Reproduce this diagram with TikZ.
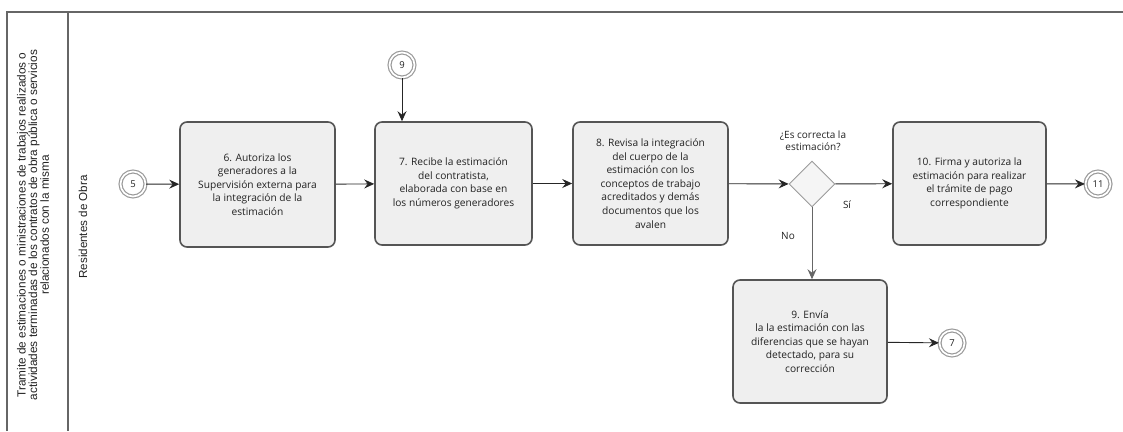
\documentclass[tikz,border=0pt]{standalone}
\usepackage{fontspec}
\setmainfont{Open Sans}
\newfontfamily\lanefont{Liberation Sans}
\usetikzlibrary{arrows.meta,shapes.geometric}
\definecolor{boxfill}{HTML}{EFEFEF}
\definecolor{boxline}{HTML}{555555}
\definecolor{ringgray}{HTML}{9A9A9A}
\definecolor{lanegray}{HTML}{666666}
\definecolor{txt}{HTML}{222222}
\tikzset{
  taskbox/.style={draw=boxline, fill=boxfill, line width=1.6pt, rounded corners=7pt,
    minimum width=153pt, minimum height=123pt, align=center, text=txt,
    font=\fontsize{10.2}{13.6}\selectfont, inner sep=2pt},
  ringnode/.style={circle, draw=ringgray, line width=1.2pt, double=white, double distance=1.7pt,
    minimum size=25pt, inner sep=0pt, fill=white, text=txt, font=\fontsize{9.5}{10}\selectfont},
  gate/.style={diamond, draw=ringgray, fill=boxfill!60, line width=0.9pt, minimum width=46pt, minimum height=46pt, inner sep=0pt},
  flow/.style={draw=black!85, line width=0.9pt, -{Stealth[length=10pt,width=9pt,inset=3.5pt]}},
  lbl/.style={text=txt, font=\fontsize{10}{12.5}\selectfont, align=center},
  lanelbl/.style={rotate=90, align=center, text=txt, font=\lanefont\fontsize{11.8}{11.6}\selectfont}
}
\begin{document}
\begin{tikzpicture}[x=1pt,y=-1pt]
\useasboundingbox (0,0) rectangle (1123,431);
% pool frame
\draw[lanegray, line width=1.2pt] (7,431) -- (7,12) -- (1123,12);
\draw[lanegray, line width=1.2pt] (68,12) -- (68,431);
\node[lanelbl] (pool) at (33,225) {Tramite de estimaciones o ministraciones de trabajos realizados o\\actividades terminadas de los contratos de obra pública o servicios\\relacionados con la misma};
\node[lanelbl, font=\lanefont\fontsize{11.6}{12}\selectfont] (lane) at (83,227) {Residentes de Obra};
% events
\node[ringnode] (c5) at (133,184) {5};
\node[ringnode] (c9) at (402,65) {9};
\node[ringnode] (c11) at (1098,184) {11};
\node[ringnode] (c7) at (952,343) {7};
% tasks
\node[taskbox, minimum width=155pt, minimum height=125pt] (t6) at (257.5,184.5) {6. Autoriza los\\generadores a la\\Supervisión externa para\\la integración de la\\estimación};
\node[taskbox, minimum width=157pt] (t7) at (453.5,183.5) {7. Recibe la estimación\\del contratista,\\elaborada con base en\\los números generadores};
\node[taskbox, minimum width=155pt] (t8) at (650.5,183.5) {8. Revisa la integración\\del cuerpo de la\\estimación con los\\conceptos de trabajo\\acreditados y demás\\documentos que los\\avalen};
\node[gate] (g) at (812,184) {};
\node[taskbox] (t10) at (969.5,183.5) {10. Firma y autoriza la\\estimación para realizar\\el trámite de pago\\correspondiente};
\node[taskbox, minimum width=154pt] (t9) at (810,341.5) {9. Envía\\la la estimación con las\\diferencias que se hayan\\detectado, para su\\corrección};
% labels
\node[lbl] (q) at (813,141) {¿Es correcta la\\estimación?};
\node[lbl] (si) at (847,205) {Sí};
\node[lbl] (no) at (788,236) {No};
% flows
\draw[flow] (c5) -- (t6);
\draw[flow] (t6) -- (t7);
\draw[flow] (c9) -- (c9 |- t7.north);
\draw[flow] (t7) -- (t8);
\draw[flow] (t8) -- (g);
\draw[flow] (g) -- (t10);
\draw[flow] (t10) -- (c11);
\draw[flow, draw=black!60] (g.south) -- (g.south |- t9.north);
\draw[flow] (t9) -- (c7);
\end{tikzpicture}
\end{document}
